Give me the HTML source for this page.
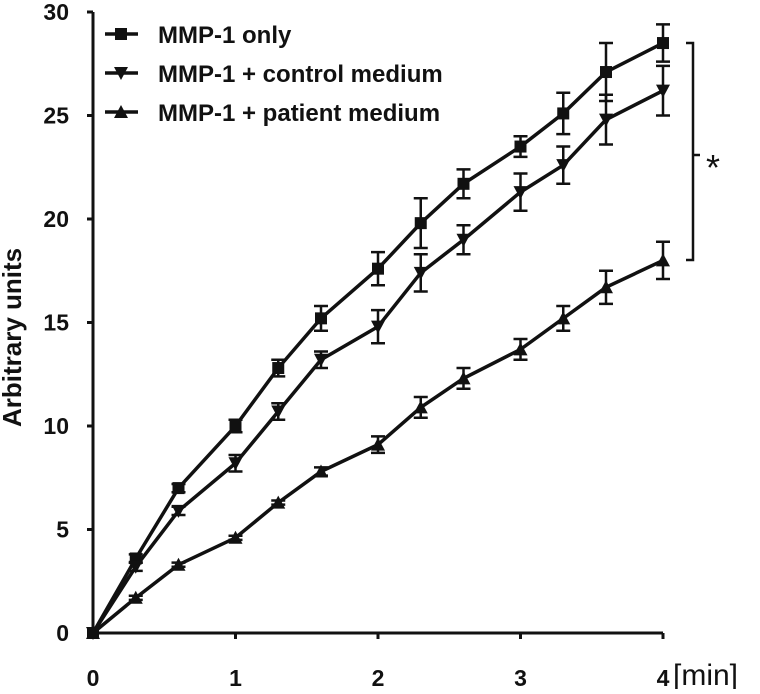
<!DOCTYPE html>
<html><head><meta charset="utf-8"><style>
body{margin:0;background:#fff;}
svg text{font-family:"Liberation Sans",sans-serif;font-weight:bold;fill:#111;}
</style></head><body>
<svg id="chart" width="760" height="689" viewBox="0 0 760 689" xmlns="http://www.w3.org/2000/svg"></svg>
<script>
const xValues=[0,0.3,0.6,1,1.3,1.6,2,2.3,2.6,3,3.3,3.6,4];
const onlyValues=[0,3.6,7.0,10.0,12.8,15.2,17.6,19.8,21.7,23.5,25.1,27.1,28.5];
const onlyErr=[0,0.2,0.2,0.3,0.4,0.6,0.8,1.2,0.7,0.5,1.0,1.4,0.9];
const controlValues=[0,3.2,5.9,8.2,10.7,13.2,14.8,17.4,19.0,21.3,22.6,24.8,26.2];
const controlErr=[0,0.2,0.2,0.4,0.4,0.4,0.8,0.9,0.7,0.9,0.9,1.2,1.2];
const patientValues=[0,1.7,3.3,4.6,6.3,7.8,9.1,10.9,12.3,13.7,15.2,16.7,18.0];
const patientErr=[0,0.1,0.1,0.1,0.1,0.2,0.4,0.5,0.5,0.5,0.6,0.8,0.9];
const xTicks=[0,1,2,3,4];
const yTicks=[0,5,10,15,20,25,30];
const seriesNames=["MMP-1 only","MMP-1 + control medium","MMP-1 + patient medium"];

const svg=document.getElementById('chart');
const NS='http://www.w3.org/2000/svg';
const X0=93,X1=663,Y0=633,Y1=12;
const sx=v=>X0+(X1-X0)*v/4;
const sy=v=>Y0-(Y0-Y1)*v/30;
function mk(tag,attrs,parent){const e=document.createElementNS(NS,tag);for(const k in attrs)e.setAttribute(k,attrs[k]);(parent||svg).appendChild(e);return e;}

let ax=mk('path',{d:`M${X0},${Y1} H${X0-6} M${X0},${Y1} V${Y0} H${X1}`,stroke:'#111','stroke-width':3,fill:'none'});


yTicks.forEach(t=>{
  const l=mk('line',{x1:X0-6,x2:X0,y1:sy(t),y2:sy(t),stroke:'#111','stroke-width':3});
  
  
  const tx=mk('text',{x:69,y:sy(t)+8,'text-anchor':'end','font-size':23});
  tx.textContent=t;
  
  
});
xTicks.forEach(t=>{
  const l=mk('line',{x1:sx(t),x2:sx(t),y1:Y0,y2:Y0+6,stroke:'#111','stroke-width':3});
  
  
  const tx=mk('text',{x:sx(t),y:686,'text-anchor':'middle','font-size':23});
  tx.textContent=t;
  
  
});
let unit=mk('text',{x:673,y:685,'font-size':30,style:'font-weight:normal'});
unit.textContent='[min]';


let yt=mk('text',{x:0,y:0,'text-anchor':'start','font-size':26,transform:`translate(21,427) rotate(-90)`});
yt.textContent='Arbitrary units';



function marker(type,x,y,g){
  if(type==='sq') return mk('rect',{x:x-6,y:y-6,width:12,height:12,fill:'#111'},g);
  if(type==='down') return mk('path',{d:`M${x-7},${y-6} L${x+7},${y-6} L${x},${y+7} Z`,fill:'#111'},g);
  return mk('path',{d:`M${x-7},${y+6} L${x+7},${y+6} L${x},${y-7} Z`,fill:'#111'},g);
}
const series=[[onlyValues,onlyErr,'sq','series-mmp1-only'],[controlValues,controlErr,'down','series-control-medium'],[patientValues,patientErr,'up','series-patient-medium']];
series.forEach(([vals,errs,type,name])=>{
  const g=mk('g',{});
  
  
  const d=vals.map((v,i)=>(i?'L':'M')+sx(xValues[i])+','+sy(v)).join(' ');
  mk('path',{d:d,stroke:'#111','stroke-width':3.5,fill:'none'},g);
  vals.forEach((v,i)=>{
    const x=sx(xValues[i]);
    if(errs[i]>0){
      const e=mk('path',{d:`M${x},${sy(v-errs[i])} V${sy(v+errs[i])} M${x-7},${sy(v-errs[i])} H${x+7} M${x-7},${sy(v+errs[i])} H${x+7}`,stroke:'#111','stroke-width':2.5,fill:'none'},g);
      
      
    }
    const m=marker(type,x,sy(v),g);
    
    
  });
});

const types=['sq','down','up'];
seriesNames.forEach((n,i)=>{
  const g=mk('g',{});
  
  
  const y=34+i*39;
  mk('line',{x1:105,x2:138,y1:y,y2:y,stroke:'#111','stroke-width':3.5},g);
  marker(types[i],121,y,g);
  const t=mk('text',{x:158,y:y+9,'font-size':24},g);
  t.textContent=n;
});

let br=mk('path',{d:'M686,43 H693 V260 H686 M693,155 H700',stroke:'#111','stroke-width':2.5,fill:'none'});


let ast=mk('text',{x:706,y:180,'font-size':36,style:'font-weight:normal'});
ast.textContent='*';


</script>
</body></html>
